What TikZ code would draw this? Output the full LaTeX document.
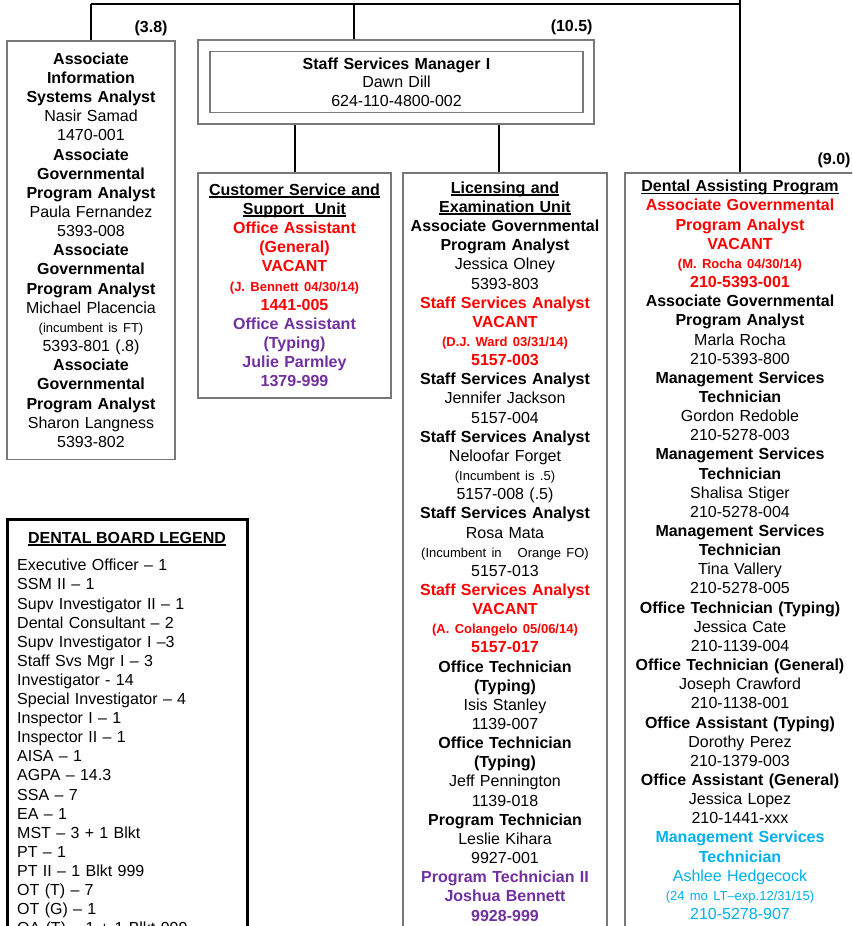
\documentclass[tikz,border=0pt]{standalone}
\usepackage{fontspec}
\setmainfont{Liberation Sans}
\usetikzlibrary{positioning}
\frenchspacing

\definecolor{vacant}{RGB}{255,0,0}
\definecolor{blanket}{RGB}{112,48,160}
\definecolor{limterm}{RGB}{0,176,240}
\definecolor{boxgray}{RGB}{120,120,120}

\newcommand{\pos}[1]{\textbf{#1}}
\newcommand{\note}[1]{{\fontsize{13}{19.15}\selectfont #1}}
\newcommand{\vac}[1]{\textcolor{vacant}{\bfseries #1}}
\newcommand{\blk}[1]{\textcolor{blanket}{\bfseries #1}}
\newcommand{\ltm}[1]{\textcolor{limterm}{#1}}
\newcommand{\uln}[1]{\setbox0\hbox{#1}\rlap{\rule[-2.2pt]{\wd0}{1.2pt}}\box0}

\tikzset{
  unitbox/.style={draw=boxgray, line width=1.5pt, align=center, inner xsep=0pt,
    inner ysep=12pt, anchor=north, font=\fontsize{16}{19.15}\selectfont},
  frame/.style={draw=boxgray, line width=1.5pt, inner sep=0pt},
  legendbox/.style={draw=black, line width=3pt, inner sep=0pt, anchor=north},
  ftelabel/.style={font=\fontsize{16}{19}\selectfont\bfseries, inner sep=0pt, anchor=south east},
  link/.style={line width=2pt},
  busline/.style={line width=2.5pt},
}

\begin{document}
\begin{tikzpicture}[x=1pt, y=-1pt]
  \useasboundingbox (0,0) rectangle (852,926);
  \clip (0,0) rectangle (852,926);

  % Associate analysts
  \node[unitbox, text width=168pt] (aisa) at (91,40) {%
    \pos{Associate}\\ \pos{Information}\\ \pos{Systems Analyst}\\ Nasir Samad\\ 1470-001\\
    \pos{Associate}\\ \pos{Governmental}\\ \pos{Program Analyst}\\ Paula Fernandez\\ 5393-008\\
    \pos{Associate}\\ \pos{Governmental}\\ \pos{Program Analyst}\\ Michael Placencia\\
    \note{(incumbent is FT)}\\ 5393-801 (.8)\\
    \pos{Associate}\\ \pos{Governmental}\\ \pos{Program Analyst}\\ Sharon Langness\\ 5393-802};
  \node[ftelabel] (aisafte) at ([xshift=-8pt,yshift=4pt]aisa.north east) {(3.8)};

  % Staff Services Manager
  \node[frame, minimum width=396pt, minimum height=84pt] (ssmunit) at (396,82) {};
  \node[unitbox, anchor=center, text width=373pt, minimum height=61pt, inner ysep=0pt,
    font=\fontsize{16}{18.5}\selectfont] (ssm) at (396.5,82) {%
    \pos{Staff Services Manager I}\\ Dawn Dill\\ 624-110-4800-002};
  \node[ftelabel] (ssmfte) at ([xshift=-2pt,yshift=4pt]ssmunit.north east) {(10.5)};

  % Customer Service and Support Unit
  \node[unitbox, text width=193pt, inner ysep=11pt] (cs) at (294.5,172) {%
    \pos{\uln{Customer Service and}}\\ \pos{\uln{Support\ \ Unit}}\\
    \vac{Office Assistant}\\ \vac{(General)}\\ \vac{VACANT}\\
    \vac{\note{(J. Bennett 04/30/14)}}\\ \vac{1441-005}\\
    \blk{Office Assistant}\\ \blk{(Typing)}\\ \blk{Julie Parmley}\\ \blk{1379-999}};

  % Licensing and Examination Unit
  \node[unitbox, text width=204pt, inner ysep=9pt] (le) at (505,172) {%
    \pos{\uln{Licensing and}}\\ \pos{\uln{Examination Unit}}\\
    \pos{Associate Governmental}\\ \pos{Program Analyst}\\ Jessica Olney\\ 5393-803\\
    \vac{Staff Services Analyst}\\ \vac{VACANT}\\ \vac{\note{(D.J. Ward 03/31/14)}}\\ \vac{5157-003}\\
    \pos{Staff Services Analyst}\\ Jennifer Jackson\\ 5157-004\\
    \pos{Staff Services Analyst}\\ Neloofar Forget\\ \note{(Incumbent is .5)}\\ 5157-008 (.5)\\
    \pos{Staff Services Analyst}\\ Rosa Mata\\ \note{(Incumbent in\ \ \ Orange FO)}\\ 5157-013\\
    \vac{Staff Services Analyst}\\ \vac{VACANT}\\ \vac{\note{(A. Colangelo 05/06/14)}}\\ \vac{5157-017}\\
    \pos{Office Technician}\\ \pos{(Typing)}\\ Isis Stanley\\ 1139-007\\
    \pos{Office Technician}\\ \pos{(Typing)}\\ Jeff Pennington\\ 1139-018\\
    \pos{Program Technician}\\ Leslie Kihara\\ 9927-001\\
    \blk{Program Technician II}\\ \blk{Joshua Bennett}\\ \blk{9928-999}};

  % Dental Assisting Program
  \node[unitbox, text width=230pt, inner ysep=7.5pt] (dap) at (740,172) {%
    \pos{\uln{Dental Assisting Program}}\\
    \vac{Associate Governmental}\\ \vac{Program Analyst}\\ \vac{VACANT}\\
    \vac{\note{(M. Rocha 04/30/14)}}\\ \vac{210-5393-001}\\
    \pos{Associate Governmental}\\ \pos{Program Analyst}\\ Marla Rocha\\ 210-5393-800\\
    \pos{Management Services}\\ \pos{Technician}\\ Gordon Redoble\\ 210-5278-003\\
    \pos{Management Services}\\ \pos{Technician}\\ Shalisa Stiger\\ 210-5278-004\\
    \pos{Management Services}\\ \pos{Technician}\\ Tina Vallery\\ 210-5278-005\\
    \pos{Office Technician (Typing)}\\ Jessica Cate\\ 210-1139-004\\
    \pos{Office Technician (General)}\\ Joseph Crawford\\ 210-1138-001\\
    \pos{Office Assistant (Typing)}\\ Dorothy Perez\\ 210-1379-003\\
    \pos{Office Assistant (General)}\\ Jessica Lopez\\ 210-1441-xxx\\
    \ltm{\bfseries Management Services}\\ \ltm{\bfseries Technician}\\ \ltm{Ashlee Hedgecock}\\
    \ltm{\note{(24 mo LT–exp.12/31/15)}}\\ \ltm{210-5278-907}};
  \node[ftelabel] (dapfte) at ([xshift=-5pt,yshift=4pt]dap.north east) {(9.0)};

  % Legend
  \node[legendbox, minimum width=240pt, minimum height=460pt] (legend) at (127,518) {};
  \node[anchor=north, inner sep=0pt, font=\fontsize{16}{19.15}\selectfont\bfseries]
    (legendtitle) at ([yshift=-14pt]legend.north) {\uln{DENTAL BOARD LEGEND}};
  \node[anchor=north west, inner sep=0pt, align=left, text width=225pt,
    font=\fontsize{16}{19.1}\selectfont] (legenditems) at ([xshift=11.5pt,yshift=-41pt]legend.north west) {%
    Executive Officer – 1\\ SSM II – 1\\ Supv Investigator II – 1\\ Dental Consultant – 2\\
    Supv Investigator I –3\\ Staff Svs Mgr I – 3\\ Investigator - 14\\ Special Investigator – 4\\
    Inspector I – 1\\ Inspector II – 1\\ AISA – 1\\ AGPA – 14.3\\ SSA – 7\\ EA – 1\\
    MST – 3 + 1 Blkt\\ PT – 1\\ PT II – 1 Blkt 999\\ OT (T) – 7\\ OT (G) – 1\\
    OA (T) – 1 + 1 Blkt 999};

  % Connectors
  \coordinate (hub) at (740,4);
  \coordinate (parent) at (740,-6);
  \draw[busline] (aisa.north |- hub) -- (hub);
  \draw[link] (aisa.north) -- (aisa.north |- hub);
  \draw[link] ([xshift=-42pt]ssmunit.north) -- ([xshift=-42pt]ssmunit.north |- hub);
  \draw[link] (parent) -- (dap.north);
  \draw[link] (cs.north |- ssmunit.south) -- (cs.north);
  \draw[link] ([xshift=-6pt]le.north |- ssmunit.south) -- ([xshift=-6pt]le.north);
\end{tikzpicture}
\end{document}
